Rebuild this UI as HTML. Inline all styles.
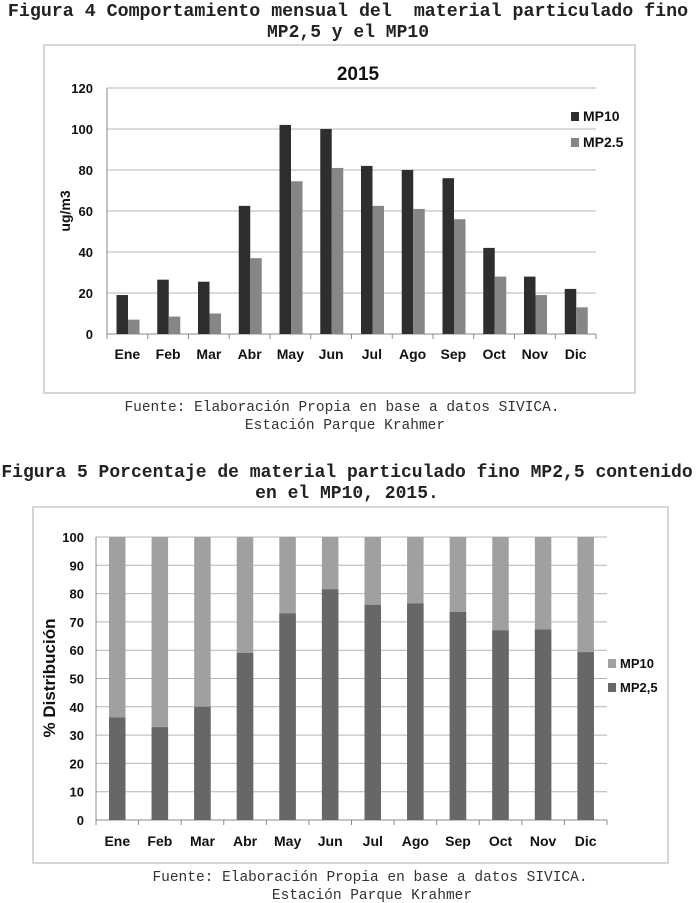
<!DOCTYPE html>
<html><head><meta charset="utf-8"><style>
html,body{margin:0;padding:0;background:#fff;}
svg{display:block;}
.m{font-family:"Liberation Mono",monospace;}
.s{font-family:"Liberation Sans",sans-serif;font-weight:bold;}
</style></head><body>
<svg width="698" height="903" viewBox="0 0 698 903" xmlns="http://www.w3.org/2000/svg">
<g class="m" font-weight="bold" fill="#222" text-anchor="middle">
<text x="348" y="16" font-size="18.3">Figura 4 Comportamiento mensual del&#160; material particulado fino</text>
<text x="348" y="37" font-size="18">MP2,5 y el MP10</text>
<text x="347" y="477" font-size="18">Figura 5 Porcentaje de material particulado fino MP2,5 contenido</text>
<text x="347" y="498" font-size="18">en el MP10, 2015.</text>
</g>
<g class="m" font-size="14.5" fill="#333" text-anchor="middle">
<text x="342" y="411">Fuente: Elaboración Propia en base a datos SIVICA.</text>
<text x="345" y="429">Estación Parque Krahmer</text>
<text x="370" y="881">Fuente: Elaboración Propia en base a datos SIVICA.</text>
<text x="372" y="899">Estación Parque Krahmer</text>
</g>
<rect x="44" y="45" width="591" height="348" fill="#fff" stroke="#c8c8c8" stroke-width="1.5"/>
<rect x="33" y="507" width="635" height="356" fill="#fff" stroke="#c8c8c8" stroke-width="1.5"/>
<g id="c1"></g>
<g id="c2"></g>
<script>
var NS="http://www.w3.org/2000/svg";
function el(p,t,a,txt){var e=document.createElementNS(NS,t);for(var k in a)e.setAttribute(k,a[k]);if(txt!=null)e.textContent=txt;p.appendChild(e);return e;}
var M=["Ene","Feb","Mar","Abr","May","Jun","Jul","Ago","Sep","Oct","Nov","Dic"];
var g=document.getElementById("c1");
var L=107,R=596,T=88,B=334,cw=(R-L)/12;
for(var v=0;v<=120;v+=20){var y=B-(B-T)*v/120;
 el(g,"line",{x1:L,x2:R,y1:y,y2:y,stroke:v?"#b4b4b4":"#888","stroke-width":1});
 el(g,"text",{x:93,y:y+5,"text-anchor":"end","font-size":13,"class":"s",fill:"#111"},v);}
el(g,"line",{x1:L,x2:L,y1:T,y2:B,stroke:"#888"});
var a=[19,26.5,25.5,62.5,102,100,82,80,76,42,28,22],b=[7,8.5,10,37,74.5,81,62.5,61,56,28,19,13];
for(var i=0;i<12;i++){var x=L+cw*i;
 var h=(B-T)*a[i]/120;el(g,"rect",{x:x+9.5,y:B-h,width:11.5,height:h,fill:"#2e2e2e"});
 h=(B-T)*b[i]/120;el(g,"rect",{x:x+21,y:B-h,width:11.5,height:h,fill:"#868686"});
 el(g,"line",{x1:x+cw,x2:x+cw,y1:B,y2:B+5,stroke:"#888"});
 el(g,"text",{x:x+cw/2,y:359,"text-anchor":"middle","font-size":14,"class":"s",fill:"#111"},M[i]);}
el(g,"line",{x1:L,x2:L,y1:B,y2:B+5,stroke:"#888"});
el(g,"text",{x:358,y:80,"text-anchor":"middle","font-size":19,"class":"s",fill:"#111"},"2015");
el(g,"text",{x:0,y:0,transform:"translate(70,211) rotate(-90)","text-anchor":"middle","font-size":14,"class":"s",fill:"#111"},"ug/m3");
el(g,"rect",{x:571,y:112,width:8,height:9,fill:"#2e2e2e"});
el(g,"text",{x:583,y:121,"font-size":14,"class":"s",fill:"#111"},"MP10");
el(g,"rect",{x:571,y:138,width:8,height:9,fill:"#868686"});
el(g,"text",{x:583,y:147,"font-size":14,"class":"s",fill:"#111"},"MP2.5");
g=document.getElementById("c2");
L=96;R=607;T=537;B=820;cw=(R-L)/12;
for(var v=0;v<=100;v+=10){var y=B-(B-T)*v/100;
 el(g,"line",{x1:L,x2:R,y1:y,y2:y,stroke:v?"#b4b4b4":"#888","stroke-width":1});
 el(g,"text",{x:84,y:y+5,"text-anchor":"end","font-size":13,"class":"s",fill:"#111"},v);}
el(g,"line",{x1:L,x2:L,y1:T,y2:B+5,stroke:"#888"});
var p=[36.2,32.8,40,59,73,81.5,76,76.5,73.5,67,67.3,59.3];
for(var i=0;i<12;i++){var x=L+cw*i;
 el(g,"rect",{x:x+13,y:T,width:16.5,height:B-T,fill:"#a0a0a0"});
 var h=(B-T)*p[i]/100;el(g,"rect",{x:x+13,y:B-h,width:16.5,height:h,fill:"#676767"});
 el(g,"line",{x1:x+cw,x2:x+cw,y1:B,y2:B+5,stroke:"#888"});
 el(g,"text",{x:x+cw/2,y:846,"text-anchor":"middle","font-size":14,"class":"s",fill:"#111"},M[i]);}
el(g,"text",{x:0,y:0,transform:"translate(55,678) rotate(-90)","text-anchor":"middle","font-size":17,"class":"s",fill:"#111"},"% Distribución");
el(g,"rect",{x:608,y:659,width:8,height:9,fill:"#a0a0a0"});
el(g,"text",{x:620,y:668,"font-size":13,"class":"s",fill:"#111"},"MP10");
el(g,"rect",{x:608,y:683,width:8,height:9,fill:"#676767"});
el(g,"text",{x:620,y:692,"font-size":13,"class":"s",fill:"#111"},"MP2,5");
</script>
</svg>
</body></html>
